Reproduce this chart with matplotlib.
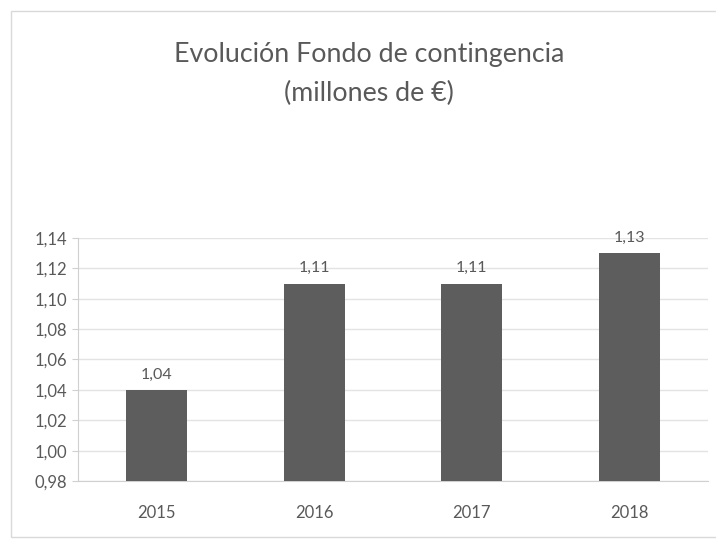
import matplotlib
matplotlib.use("Agg")
import matplotlib.pyplot as plt
from matplotlib.patches import Rectangle
from matplotlib.ticker import FuncFormatter, MultipleLocator

years = ["2015", "2016", "2017", "2018"]
fondo = [1.04, 1.11, 1.11, 1.13]
title = "Evolución Fondo de contingencia\n(millones de €)"

text_color = "#595959"
bar_color = "#5d5d5d"
grid_color = "#e3e3e3"

plt.rcParams["font.family"] = ["Lato", "DejaVu Sans"]

fig = plt.figure(figsize=(7.16, 5.4), dpi=100)
W, H = 716, 540

# chart frame
fig.patches.append(Rectangle((11 / W, 3 / H), 1.2, 1 - 14 / H, transform=fig.transFigure,
                             fill=False, edgecolor="#d9d9d9", linewidth=1.0))

ax = fig.add_axes([78 / W, 1 - 481 / H, (708 - 78) / W, (481 - 238) / H])
x = list(range(len(years)))
base = 0.98
bars = ax.bar(x, [v - base for v in fondo], width=0.39, bottom=base,
              color=bar_color, zorder=3)

for xi, v in zip(x, fondo):
    ax.annotate(f"{v:.2f}".replace(".", ","), (xi, v), xytext=(0, 6),
                textcoords="offset points", ha="center", va="bottom",
                fontsize=11.5, color=text_color)

ax.set_xlim(-0.5, len(years) - 0.5)
ax.set_ylim(0.98, 1.14)
ax.yaxis.set_major_locator(MultipleLocator(0.02))
ax.yaxis.set_major_formatter(FuncFormatter(lambda v, p: f"{v:.2f}".replace(".", ",")))
ax.set_xticks(x)
ax.set_xticklabels(years)
ax.grid(axis="y", color=grid_color, linewidth=1.0, zorder=0)
for s in ["top", "right"]:
    ax.spines[s].set_visible(False)
ax.spines["left"].set_color("#d0d0d0")
ax.spines["bottom"].set_color("#d0d0d0")
ax.tick_params(axis="y", length=4, color="#d0d0d0", labelsize=12, labelcolor=text_color, pad=4)
ax.tick_params(axis="x", length=0, labelsize=12, labelcolor=text_color, pad=17)

fig.text(369 / W, 1 - 74 / H, title, ha="center", va="center", fontsize=19.3,
         color=text_color, linespacing=1.65)

fig.savefig("out.png", dpi=100)
